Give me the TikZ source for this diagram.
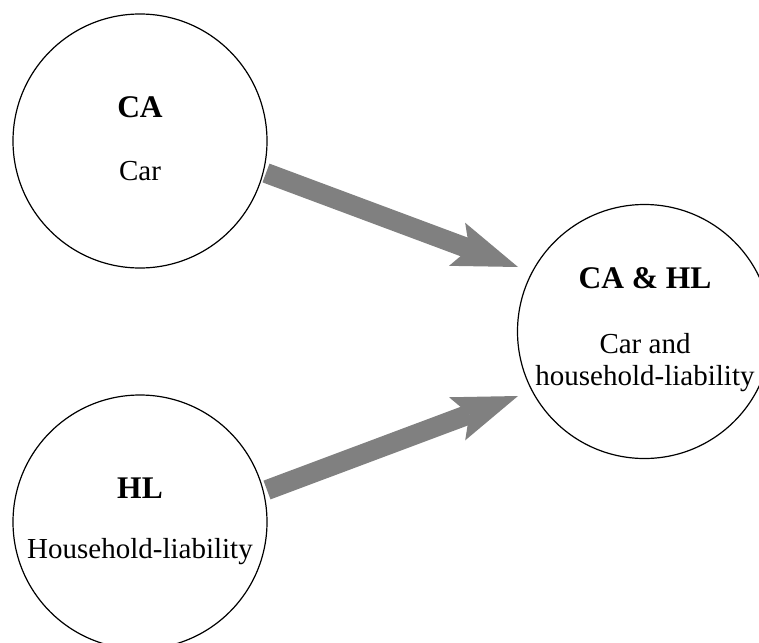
\documentclass[tikz,border=0pt]{standalone}
\usepackage{fontspec}
\setmainfont{Liberation Serif}
\usetikzlibrary{arrows.meta}
\definecolor{arrowgray}{RGB}{128,128,128}
\tikzset{
  bubble/.style={circle, draw=black, line width=1.2pt, minimum size=254pt, inner sep=0pt},
  titletext/.style={anchor=base, inner sep=0pt, font=\fontsize{31.5}{37}\selectfont\bfseries},
  bodytext/.style={anchor=base, inner sep=0pt, align=center, font=\fontsize{29}{32}\selectfont},
  fatarrow/.style={draw=arrowgray, line width=20pt,
    -{Stealth[length=65pt, width=46pt, inset=13pt, line width=0pt, fill=arrowgray]}}
}
\begin{document}
\begin{tikzpicture}[x=1pt, y=-1pt]
\useasboundingbox (0,0) rectangle (759,642);
\clip (0,0) rectangle (759,642);
\node[bubble] (ca) at (140,141) {};
\node[bubble] (hl) at (140,522) {};
\node[bubble] (both) at (644.5,331.5) {};

\node[titletext] (catitle) at (140,117) {CA};
\node[bodytext] (catext) at (140,180) {Car};
\node[titletext] (hltitle) at (140,498) {HL};
\node[bodytext] (hltext) at (140,558) {Household-liability};
\node[titletext] (bothtitle) at (645,288) {CA \& HL};
\node[bodytext] (bothtext1) at (645,353) {Car and};
\node[bodytext] (bothtext2) at (645,385) {household-liability};

\coordinate (tip1) at (518,267);
\coordinate (tip2) at (518,396);
\coordinate (tail1) at (266,173);
\coordinate (tail2) at (267,490);
\draw[fatarrow] (tail1) -- (tip1);
\draw[fatarrow] (tail2) -- (tip2);
\end{tikzpicture}
\end{document}
